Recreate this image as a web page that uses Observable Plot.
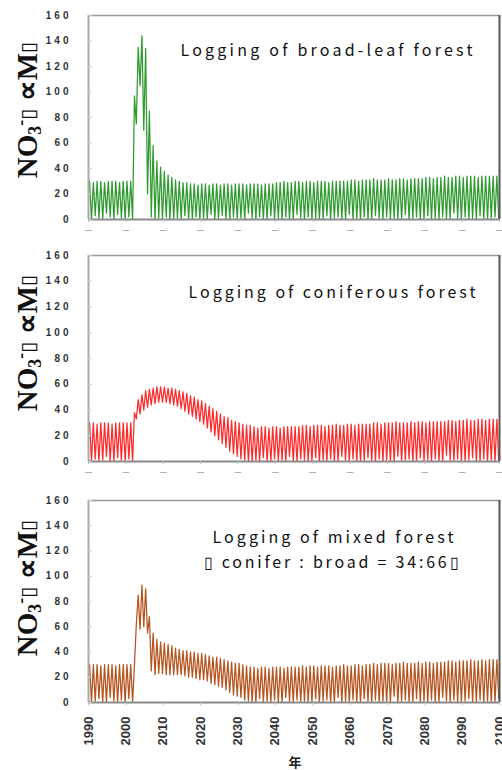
<!DOCTYPE html>
<html><head><meta charset="utf-8">
<script src="https://cdn.jsdelivr.net/npm/d3@7"></script>
<script src="https://cdn.jsdelivr.net/npm/@observablehq/plot@0.6"></script>
<style>
body{margin:0;background:#fff;}
#wrap{position:relative;width:502px;height:770px;overflow:hidden;background:#fff;}
.panel{position:absolute;left:0;}
.ylab{position:absolute;font-family:"Liberation Serif","Times New Roman",serif;font-weight:bold;font-size:29px;line-height:1;white-space:nowrap;transform:translate(-50%,-50%) rotate(-90deg);color:#111;}
.ylab .sb{font-size:0.62em;position:relative;top:0.22em;}
.ylab .sp{font-size:0.62em;position:relative;top:-0.55em;}
.ylab .bx{font-family:"DejaVu Sans",sans-serif;font-weight:normal;font-size:0.7em;position:relative;top:-0.1em;}
.xlab{position:absolute;font-family:"Noto Sans CJK JP",sans-serif;font-weight:bold;font-size:13px;transform:translate(-50%,-50%);color:#222;}
</style>
</head><body><div id="wrap"></div>
<script>
const startYear = 1990;
const xTicks = [1990,2000,2010,2020,2030,2040,2050,2060,2070,2080,2090,2100];
const yTicks = [0,20,40,60,80,100,120,140,160];
const xTitle = "年";
const yTitleMain = "NO";

// Panel 1: logging of broad-leaf forest (two samples per year: seasonal high, seasonal low)
const broadTitle = ["Logging of broad-leaf forest"];
const broadHigh = [30,29,30,30,29,30,30,30,29,30,30,30,
  97,135,144,134,85,58,46,41,38,35,33,31,30,29,29,28,
  28,27,28,28,27,28,28,27,28,28,27,28,28,28,27,28,28,28,27,28,28,28,
  29,29,30,29,29,30,30,29,30,30,29,30,30,30,29,30,30,30,30,30,
  31,31,30,31,31,31,32,31,31,31,32,31,31,32,32,31,32,32,32,32,
  33,33,32,33,33,34,33,33,34,34,33,34,34,34,33,34,34,34,34,34];
const broadLow = [0,3,1,0,5,2,0,4,1,0,2,0,
  75,105,70,20,2,0,1,0,2,0,0,1,0,3,0,0,
  2,0,1,0,4,0,1,3,0,0,2,0,1,0,5,1,0,2,0,0,
  3,0,1,0,2,0,0,4,1,0,2,0,1,0,0,3,0,1,2,0,
  0,4,0,1,0,2,0,0,3,1,0,2,0,1,0,0,4,0,1,2,
  0,0,3,0,1,0,2,0,0,5,1,0,2,0,1,0,3,0,0,1,
  2,0];

// Panel 2: logging of coniferous forest
const coniferTitle = ["Logging of coniferous forest"];
const coniferHigh = [30,30,29,30,30,30,29,30,30,30,30,30,
  38,48,52,55,56,57,58,58,58,57,57,56,55,54,53,51,50,48,47,45,43,41,39,37,35,34,32,31,30,29,28,28,
  27,26,27,27,26,27,27,26,27,27,27,27,
  27,28,28,27,28,28,28,27,28,28,29,28,28,29,29,28,29,29,29,29,
  30,30,29,30,30,30,31,30,30,30,31,30,31,31,30,31,31,31,31,31,
  32,32,31,32,32,33,32,32,33,33,32,33,33,33];
const coniferLow = [0,2,0,1,4,0,0,3,1,0,2,0,
  33,37,40,42,44,45,46,46,46,45,44,43,41,39,37,35,33,31,29,26,23,20,17,14,11,8,6,4,2,1,0,0,
  1,0,3,0,0,2,0,1,0,4,0,0,2,1,0,0,3,0,1,0,
  2,0,0,4,1,0,2,0,0,1,3,0,0,2,0,1,0,0,4,0,
  1,2,0,0,3,0,1,0,2,0,0,5,1,0,2,0,0,1,3,0,
  0,2,0,1,0,0];

// Panel 3: logging of mixed forest
const mixedTitle = ["Logging of mixed forest", "▯ conifer : broad = 34:66▯"];
const mixedHigh = [30,30,30,29,30,30,30,29,30,30,30,30,
  30,85,93,90,68,55,50,48,47,46,45,43,42,41,41,40,40,39,39,38,37,36,36,35,34,33,32,31,31,30,29,28,
  28,27,28,28,27,28,28,28,27,28,28,28,
  28,29,28,29,29,28,29,29,29,28,29,29,30,29,29,30,30,29,30,30,
  31,30,31,31,31,30,31,31,32,31,31,31,32,31,32,32,31,32,32,32,
  33,33,32,33,33,33,34,33,33,34,33,34,34,34];
const mixedLow = [0,1,3,0,0,4,1,0,2,0,3,0,
  62,58,60,55,25,22,23,23,22,22,22,22,22,21,20,20,19,18,18,17,15,14,13,12,10,8,6,5,4,2,1,0,
  0,3,0,1,0,2,0,0,4,1,0,2,0,1,0,0,3,0,1,2,
  0,0,4,0,1,0,2,0,0,3,1,0,2,0,1,0,0,5,0,1,
  2,0,0,3,0,1,0,2,0,0,4,1,0,2,0,0,1,3,0,0,
  2,0,1,0,0,3];

const wrap = document.getElementById("wrap");

function makePanel(cfg) {
  const pts = [];
  cfg.high.forEach((h, i) => {
    pts.push({year: startYear + i + 0.3, v: h});
    pts.push({year: startYear + i + 0.8, v: cfg.low[i]});
  });
  const titleMarks = cfg.titles.map((t, i) =>
    Plot.text([t], {frameAnchor: "top-left", dx: cfg.titlePos[i][0], dy: cfg.titlePos[i][1],
      text: d => d, textAnchor: "start", lineAnchor: "middle", fontSize: 16,
      fontFamily: "Noto Sans CJK JP, Noto Sans, sans-serif", fill: "#111"}));
  const xAxis = cfg.last
    ? Plot.axisX(xTicks, {tickSize: 3, stroke: "#bbb", tickRotate: -90, tickPadding: 11, fontSize: 13,
        fontWeight: "bold", fill: "#333", tickFormat: d => String(d), label: null})
    : Plot.axisX(xTicks, {tickSize: 3, stroke: "#bbb", tickPadding: 3, fontSize: 12, fill: "#aaa",
        tickFormat: () => "–", label: null});
  const svg = Plot.plot({
    width: 502, height: cfg.height,
    marginLeft: 88, marginRight: 3, marginTop: cfg.mt, marginBottom: cfg.mb,
    style: {fontFamily: "Liberation Sans, Arial, sans-serif", background: "transparent", overflow: "visible"},
    x: {domain: [xTicks[0], xTicks[xTicks.length - 1]]},
    y: {domain: [yTicks[0], yTicks[yTicks.length - 1]]},
    marks: [
      Plot.lineY(pts, {x: "year", y: "v", stroke: cfg.color, strokeWidth: 1.25, clip: true}),
      Plot.ruleY([yTicks[yTicks.length - 1]], {stroke: "#999", strokeWidth: 1.5}),
      Plot.ruleX([xTicks[xTicks.length - 1]], {stroke: "#555", strokeWidth: 2}),
      Plot.ruleX([xTicks[0]], {stroke: "#a8a8a8", strokeWidth: 2}),
      Plot.ruleY([yTicks[0]], {stroke: "#8a8a8a", strokeWidth: 2}),
      Plot.axisY(yTicks, {tickSize: 0, tickPadding: 17, fontSize: 10, fontWeight: "bold", fill: "#333", label: null}),
      Plot.axisY(yTicks, {tickSize: 4, dx: 4, stroke: "#ccc", tickFormat: () => "", label: null}),
      xAxis,
      ...titleMarks
    ]
  });
  // wide-spaced bold y tick digits as in the reference
  svg.querySelectorAll('g[aria-label="y-axis tick label"] text').forEach(t => {
    t.style.letterSpacing = "3px";
  });
  const titleTexts = Array.from(svg.querySelectorAll('g[aria-label="text"] text'))
    .filter(t => cfg.titles.includes(t.textContent));
  titleTexts.forEach((t, i) => {
    t.setAttribute("textLength", cfg.titleWidths[i]);
    t.setAttribute("lengthAdjust", "spacing");
  });
  const div = document.createElement("div");
  div.className = "panel";
  div.style.top = cfg.top + "px";
  div.appendChild(svg);
  wrap.appendChild(div);

  const yl = document.createElement("div");
  yl.className = "ylab";
  yl.style.left = "27px";
  yl.style.top = cfg.ylabY + "px";
  yl.innerHTML = yTitleMain + '<span class="sb">3</span><span class="sp">-</span><span class="bx">▯</span> ∝M<span class="bx">▯</span>';
  wrap.appendChild(yl);
}

makePanel({high: broadHigh, low: broadLow, color: "#2f9a2f", top: 0, height: 240, mt: 15, mb: 21,
  titles: broadTitle, titlePos: [[92, 35]], titleWidths: [292], ylabY: 110});
makePanel({high: coniferHigh, low: coniferLow, color: "#ff2a2a", top: 240, height: 240, mt: 15, mb: 19,
  titles: coniferTitle, titlePos: [[100, 37]], titleWidths: [287], ylabY: 343});
makePanel({high: mixedHigh, low: mixedLow, color: "#b5541f", top: 480, height: 290, mt: 20, mb: 68, last: true,
  titles: mixedTitle, titlePos: [[124, 37], [115, 62]], titleWidths: [241, 255], ylabY: 588});

const xl = document.createElement("div");
xl.className = "xlab";
xl.style.left = "295px";
xl.style.top = "761px";
xl.textContent = xTitle;
wrap.appendChild(xl);
</script>
</body></html>
